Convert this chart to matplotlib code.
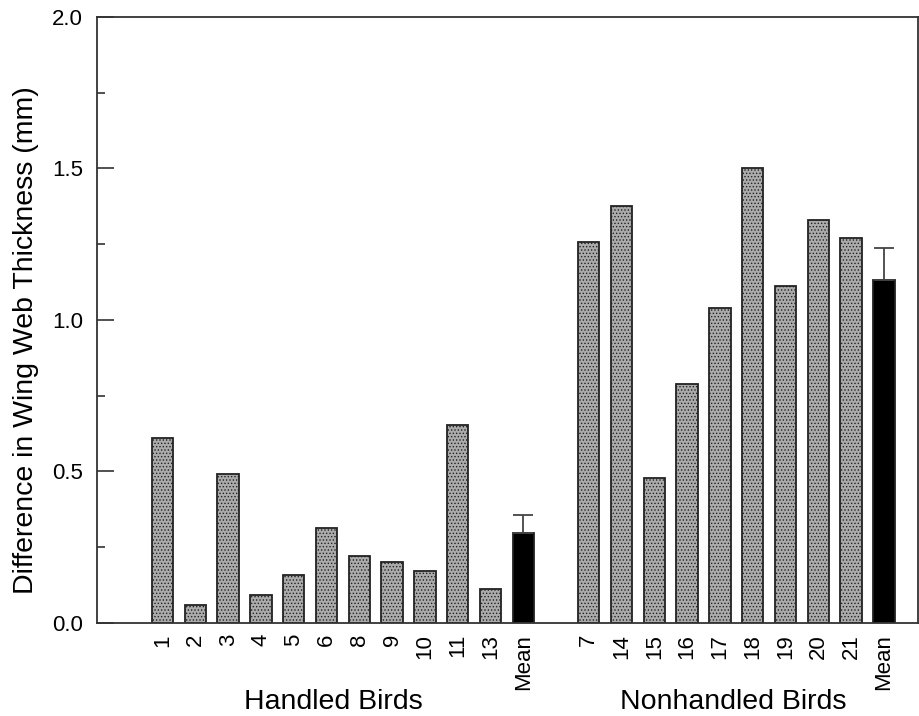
import numpy as np
import matplotlib
matplotlib.use("Agg")
import matplotlib.pyplot as plt

plt.rcParams['font.family'] = ['Liberation Sans', 'DejaVu Sans']
plt.rcParams['hatch.linewidth'] = 0.6

handled_labels = ['1', '2', '3', '4', '5', '6', '8', '9', '10', '11', '13', 'Mean']
handled_vals = [0.611, 0.060, 0.492, 0.091, 0.160, 0.313, 0.222, 0.201, 0.172, 0.655, 0.112, 0.297]
handled_err = 0.06

nonhandled_labels = ['7', '14', '15', '16', '17', '18', '19', '20', '21', 'Mean']
nonhandled_vals = [1.256, 1.377, 0.477, 0.789, 1.038, 1.501, 1.111, 1.331, 1.272, 1.131]
nonhandled_err = 0.106

fig = plt.figure(figsize=(9.2, 7.16), dpi=100)
ax = fig.add_axes([0.1054, 0.1299, 0.8924, 0.8464])

x1 = np.arange(len(handled_vals))
x2 = np.arange(len(nonhandled_vals)) + len(handled_vals) + 1
width = 0.65
grey = '#ababab'

def draw_group(xs, vals, err):
    colors = [grey] * (len(vals) - 1) + ['black']
    hatches = ['.....'] * (len(vals) - 1) + [None]
    for xi, v, c, h in zip(xs, vals, colors, hatches):
        ax.bar(xi, v, width=width, color=c, edgecolor='#222222', linewidth=1.3, hatch=h)
    ax.errorbar(xs[-1], vals[-1], yerr=[[0], [err]], fmt='none', ecolor='#444444',
                elinewidth=1.3, capsize=7, capthick=1.3)

draw_group(x1, handled_vals, handled_err)
draw_group(x2, nonhandled_vals, nonhandled_err)

ax.set_xlim(-2, x2[-1] + 1.04)
ax.set_ylim(0, 2.0)
ax.set_yticks([0, 0.5, 1.0, 1.5, 2.0])
ax.set_yticklabels(['0.0', '0.5', '1.0', '1.5', '2.0'], fontsize=16)
ax.set_yticks(np.arange(0.25, 2.0, 0.5), minor=True)
ax.tick_params(axis='y', which='major', direction='in', length=12, width=1.2, color='#333333', pad=10)
ax.tick_params(axis='y', which='minor', direction='in', length=6, width=1.2, color='#333333')

ax.set_xticks(np.concatenate([x1, x2]))
ax.set_xticklabels(handled_labels + nonhandled_labels, rotation=90, fontsize=16)
ax.tick_params(axis='x', length=0, pad=8)

for s in ax.spines.values():
    s.set_linewidth(1.3)
    s.set_color('#333333')

ax.set_ylabel('Difference in Wing Web Thickness (mm)', fontsize=20.5)
ax.yaxis.set_label_coords(-0.071, 0.467)

ax.text(x1.mean() - 0.3, -0.262, 'Handled Birds', ha='center', va='center', fontsize=20.5)
ax.text(x2.mean() - 0.1, -0.262, 'Nonhandled Birds', ha='center', va='center', fontsize=20.5)

fig.savefig('out.png', dpi=100)
